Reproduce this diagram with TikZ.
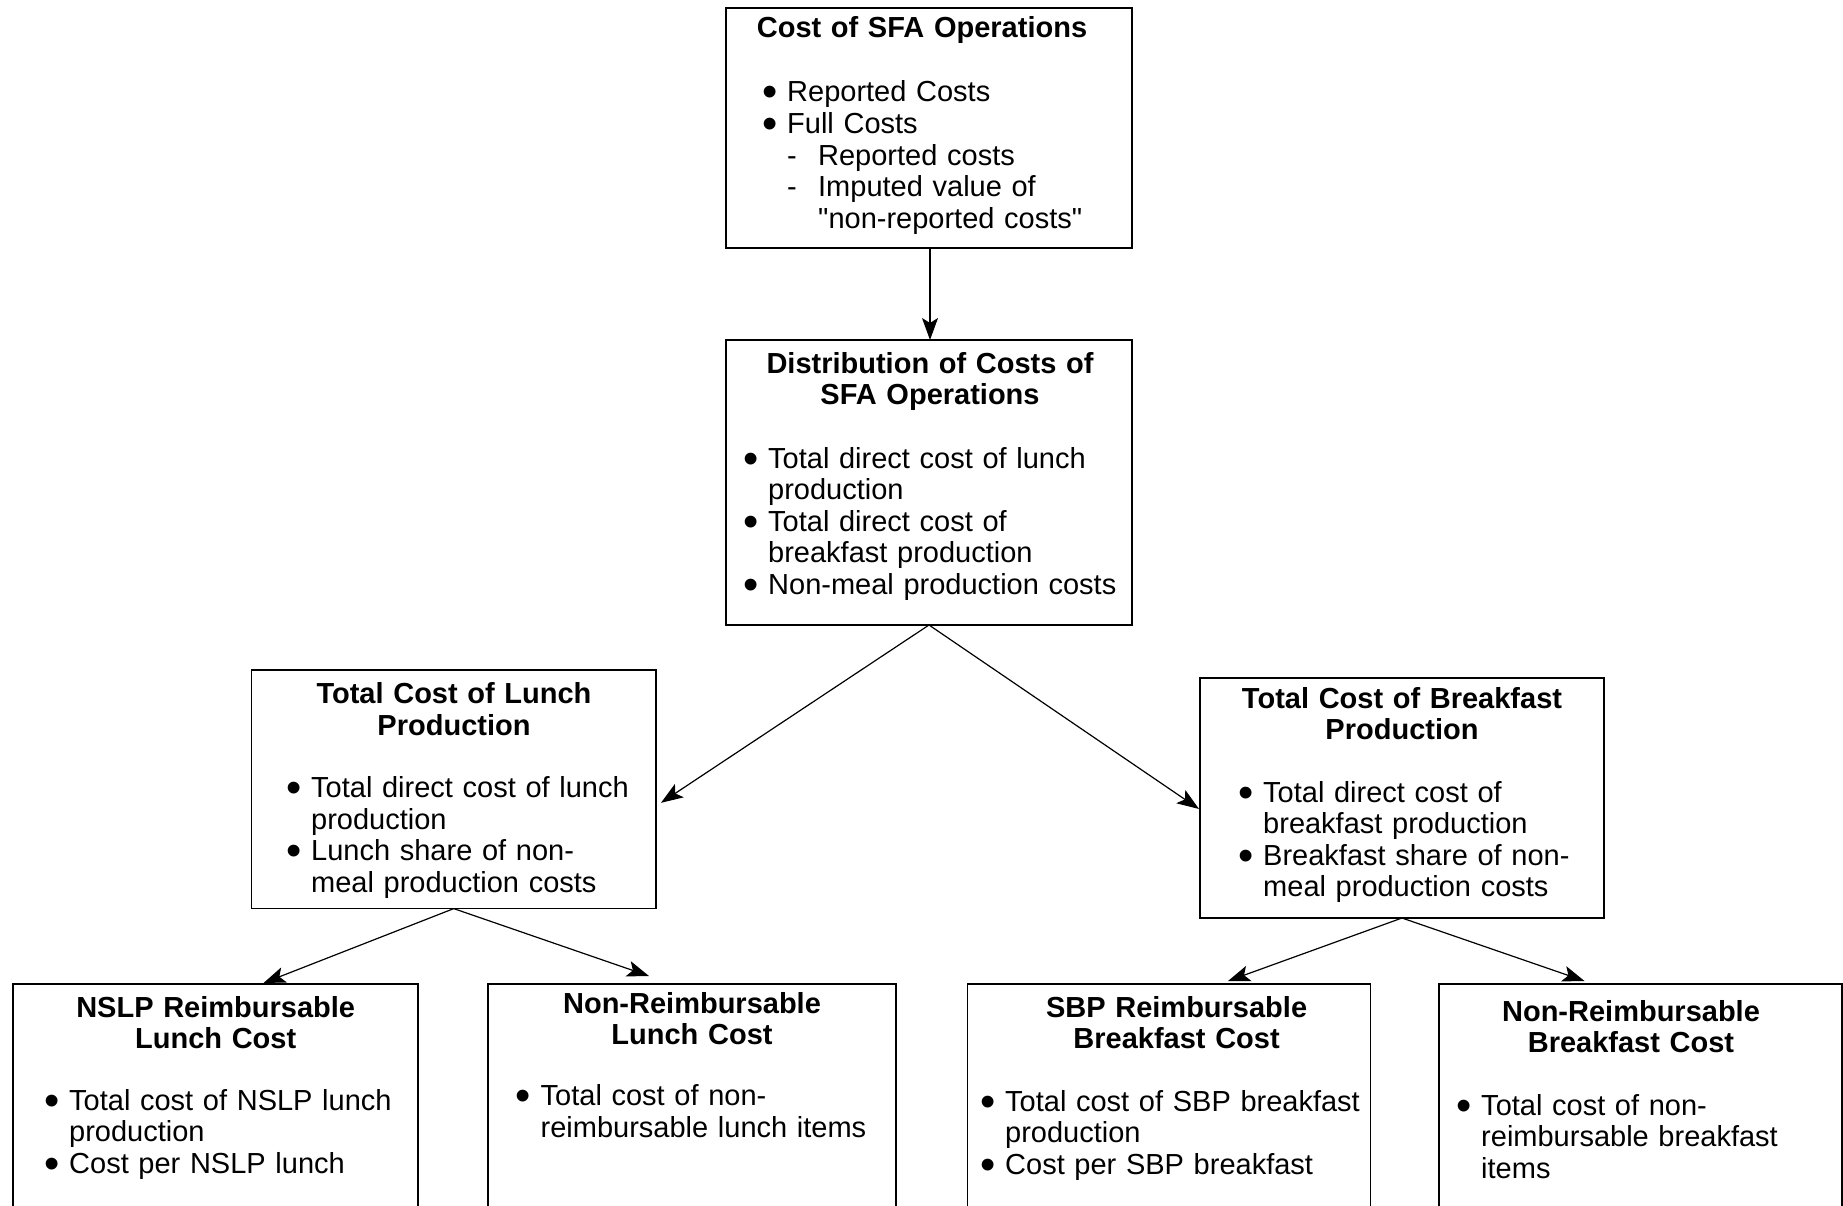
\documentclass[tikz,border=0pt]{standalone}
\usepackage{fontspec}
\usepackage{graphicx}
\setmainfont{Liberation Sans}[Ligatures=TeXOff]
\usetikzlibrary{arrows.meta,calc}

% bullet item and dash sub-item with hanging indent
\newcommand\bigdot{\raisebox{-5pt}{\scalebox{1.5}{\textbullet}}}
\newcommand\bul[1]{\leavevmode\hangindent=25pt\hangafter=1\makebox[25pt][l]{\bigdot}#1\par}
\newcommand\dsh[1]{\leavevmode\hangindent=56pt\hangafter=1\hspace*{25pt}\makebox[31pt][l]{-}#1\par}

\tikzset{
  frame/.style={draw, line width=1.3pt, anchor=north west, inner sep=0pt, outer sep=0pt},
  ttl/.style={anchor=base, align=center, text width=400pt, inner sep=0pt,
              font=\bfseries\fontsize{29}{31.6}\selectfont},
  lst/.style={anchor=base west, align=left, text width=400pt, inner sep=0pt,
              font=\fontsize{29}{31.6}\selectfont},
  conn/.style={line width=1.2pt, -{Stealth[length=22pt,width=16pt,inset=5pt]}}
}

\begin{document}
\begin{tikzpicture}[x=1pt,y=-1pt]
\useasboundingbox (0,0) rectangle (1843,1206);
\fill[white] (0,0) rectangle (1843,1206);
\begin{scope}
\clip (0,0) rectangle (1843,1206);

% boxes
\node[frame, minimum width=406pt, minimum height=240pt] (A) at (726,8) {};
\node[frame, minimum width=406pt, minimum height=285pt] (B) at (726,340) {};
\node[frame, minimum width=404.5pt, minimum height=238.6pt] (C) at (251.5,670) {};
\node[frame, minimum width=404pt, minimum height=240pt] (D) at (1200,678) {};
\node[frame, minimum width=405pt, minimum height=300pt] (E) at (13,984) {};
\node[frame, minimum width=408pt, minimum height=300pt] (F) at (488,984) {};
\node[frame, minimum width=403pt, minimum height=300pt] (G) at (967.5,984) {};
\node[frame, minimum width=403pt, minimum height=300pt] (H) at (1439,984) {};

% box contents
\node[ttl] (A-t) at (922,38) {Cost of SFA Operations};
\node[lst] (A-l) at (762,102) {\bul{Reported Costs}\bul{Full Costs}\dsh{Reported costs}\dsh{Imputed value of\newline "non-reported costs"}};

\node[ttl] (B-t) at (930,373) {Distribution of Costs of\\SFA Operations};
\node[lst] (B-l) at (743,468) {\bul{Total direct cost of lunch\newline production}\bul{Total direct cost of\newline breakfast production}\bul{Non-meal production costs}};

\node[ttl] (C-t) at (454,703.5) {Total Cost of Lunch\\Production};
\node[lst] (C-l) at (286,797.5) {\bul{Total direct cost of lunch\newline production}\bul{Lunch share of non-\newline meal production costs}};

\node[ttl] (D-t) at (1402,708) {Total Cost of Breakfast\\Production};
\node[lst] (D-l) at (1238,802) {\bul{Total direct cost of\newline breakfast production}\bul{Breakfast share of non-\newline meal production costs}};

\node[ttl] (E-t) at (215.7,1017) {NSLP Reimbursable\\Lunch Cost};
\node[lst] (E-l) at (44,1110) {\bul{Total cost of NSLP lunch\newline production}\bul{Cost per NSLP lunch}};

\node[ttl] (F-t) at (692,1013) {Non-Reimbursable\\Lunch Cost};
\node[lst] (F-l) at (515.5,1105.5) {\bul{Total cost of non-\newline reimbursable lunch items}};

\node[ttl] (G-t) at (1176.6,1017) {SBP Reimbursable\\Breakfast Cost};
\node[lst] (G-l) at (980,1111) {\bul{Total cost of SBP breakfast\newline production}\bul{Cost per SBP breakfast}};

\node[ttl] (H-t) at (1631,1021) {Non-Reimbursable\\Breakfast Cost};
\node[lst] (H-l) at (1456,1115) {\bul{Total cost of non-\newline reimbursable breakfast\newline items}};

% arrow end points beside the target boxes
\coordinate (C-in) at ($(C.east)+(5,13.5)$);
\coordinate (D-in) at ($(D.west)+(-1,11)$);
\coordinate (E-in) at ($(E.north)+(48,-1)$);
\coordinate (F-in) at ($(F.north)+(-43,-8)$);
\coordinate (G-in) at ($(G.north)+(59,-3)$);
\coordinate (H-in) at ($(H.north)+(-56,-3)$);

% connectors
\draw[conn] ($(A.south)+(1,0)$) -- ($(B.north)+(1,0)$);
\draw[conn] (B.south) -- (C-in);
\draw[conn] (B.south) -- (D-in);
\draw[conn] (C.south) -- (E-in);
\draw[conn] (C.south) -- (F-in);
\draw[conn] (D.south) -- (G-in);
\draw[conn] (D.south) -- (H-in);
\end{scope}
\end{tikzpicture}
\end{document}
